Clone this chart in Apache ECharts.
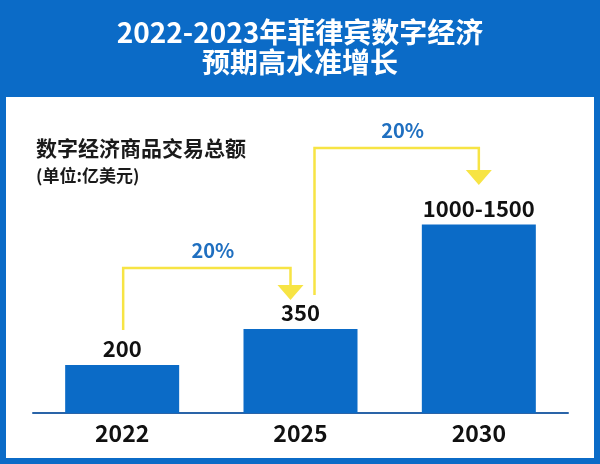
<!DOCTYPE html>
<html>
<head>
<meta charset="utf-8">
<script src="https://cdn.jsdelivr.net/npm/echarts@6/dist/echarts.min.js"></script>
<style>
  html, body { margin: 0; padding: 0; }
  #main { width: 600px; height: 464px; }
</style>
</head>
<body>
<div id="main"></div>
<script>
// 数据
var years = ["2022", "2025", "2030"];
// 柱子画出来的高度（原图 2030 年柱子不是按比例画的）
var barValues = [200, 350, 785];
var barLabels = ["200", "350", "1000-1500"];

// 增长箭头：起点柱、终点柱、竖线起点、横线高度、箭头尖
var arrowFrom = [0, 1];
var arrowTo = [1, 2];
var arrowStart = [346, 492];
var arrowLevel = [604, 1104];
var arrowTip = [471, 950];
var growthLabels = ["20%", "20%"];

var font = "Noto Sans CJK SC";
var blue = "#0b6bc7";
var yellow = "#f7e444";

var arrowData = [];
for (var i = 0; i < arrowFrom.length; i++) {
  arrowData.push([arrowFrom[i], arrowTo[i], arrowStart[i], arrowLevel[i], arrowTip[i], growthLabels[i]]);
}
// 箭头两端相对柱中心的像素偏移
var arrowShift = [[1, -10], [14, 0]];

var myChart = echarts.init(document.getElementById("main"));

var option = {
  backgroundColor: blue,
  title: [
    {
      text: "2022-2023年菲律宾数字经济\n预期高水准增长",
      left: "center",
      top: 12,
      textStyle: {
        color: "#fff",
        fontFamily: font,
        fontWeight: "bold",
        fontSize: 28,
        lineHeight: 30,
      },
    },
    {
      text: "数字经济商品交易总额",
      left: 31,
      top: 133,
      textStyle: {
        color: "#1a1a1a",
        fontFamily: font,
        fontWeight: "bold",
        fontSize: 21,
      },
    },
    {
      text: "(单位:亿美元)",
      left: 31,
      top: 162,
      textStyle: {
        color: "#1a1a1a",
        fontFamily: font,
        fontWeight: "bold",
        fontSize: 17,
      },
    },
  ],
  graphic: [
    {
      type: "rect",
      z: -10,
      shape: { x: 6, y: 97, width: 588, height: 361 },
      style: { fill: "#fff" },
    },
  ],
  grid: {
    left: 33,
    right: 32,
    top: 113,
    bottom: 51,
  },
  xAxis: {
    type: "category",
    data: years,
    axisTick: { show: false },
    axisLine: { lineStyle: { color: "#2a64a8", width: 2 } },
    axisLabel: {
      color: "#111",
      fontFamily: font,
      fontWeight: "bold",
      fontSize: 23,
      margin: 9,
    },
  },
  yAxis: {
    type: "value",
    min: 0,
    max: 1250,
    show: false,
  },
  series: [
    {
      type: "bar",
      data: barValues,
      barWidth: 114,
      itemStyle: { color: blue },
      label: {
        show: true,
        position: "top",
        distance: 5,
        color: "#111",
        fontFamily: font,
        fontWeight: "bold",
        fontSize: 22,
        formatter: function (p) {
          return barLabels[p.dataIndex];
        },
      },
    },
    {
      type: "custom",
      data: arrowData,
      z: 5,
      renderItem: function (params, api) {
        var k = params.dataIndex;
        var x0 = api.coord([api.value(0), 0])[0] + arrowShift[k][0];
        var x1 = api.coord([api.value(1), 0])[0] + arrowShift[k][1];
        var yStart = api.coord([0, api.value(2)])[1];
        var yLevel = api.coord([0, api.value(3)])[1];
        var yTip = api.coord([0, api.value(4)])[1];
        var headH = 15;
        var headW = 13;
        return {
          type: "group",
          children: [
            {
              type: "polyline",
              shape: {
                points: [
                  [x0, yStart],
                  [x0, yLevel],
                  [x1, yLevel],
                  [x1, yTip - headH + 1],
                ],
              },
              style: { stroke: yellow, lineWidth: 2.5, fill: null },
            },
            {
              type: "polygon",
              shape: {
                points: [
                  [x1 - headW, yTip - headH],
                  [x1 + headW, yTip - headH],
                  [x1, yTip],
                ],
              },
              style: { fill: yellow },
            },
            {
              type: "text",
              x: (x0 + x1) / 2 + 6,
              y: yLevel - 18,
              style: {
                text: arrowData[k][5],
                fill: "#1f6fc0",
                font: "bold 20px '" + font + "'",
                align: "center",
                verticalAlign: "middle",
              },
            },
          ],
        };
      },
    },
  ],
};
myChart.setOption(option);
</script>
</body>
</html>
